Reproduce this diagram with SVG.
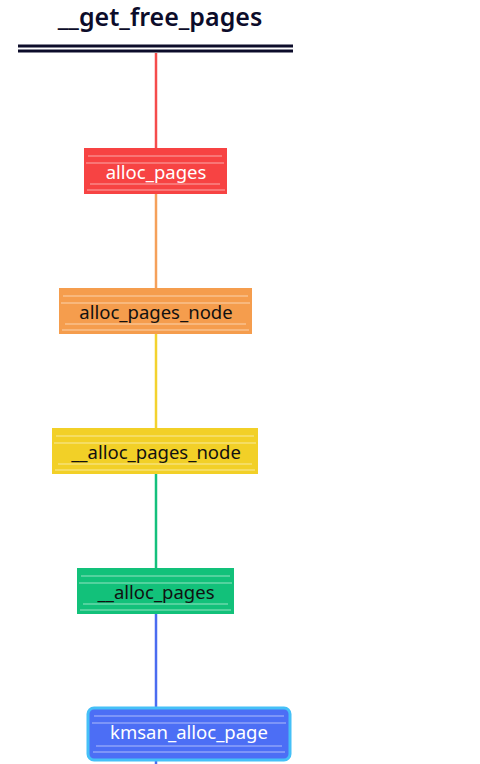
<svg xmlns="http://www.w3.org/2000/svg" width="480" height="764" viewBox="0 0 480 764">
<style>
.lbl{font-family:"Noto Sans","Liberation Sans",sans-serif;font-size:18.5px;text-anchor:middle;dominant-baseline:central}
.w{fill:#ffffff}.k{fill:#111111}
.hatch{stroke:#ffffff;stroke-opacity:0.55;stroke-width:1}
.conn{stroke-width:2.5;fill:none}
</style>
<rect width="480" height="764" fill="#ffffff"/>
<g id="title">
<text x="160" y="16" style="font-family:'Noto Sans','Liberation Sans',sans-serif;font-size:25px;font-weight:600;fill:#0c0c2a;text-anchor:middle;dominant-baseline:central">__get_free_pages</text>
<line x1="18" y1="46" x2="293" y2="46" stroke="#0c0c2a" stroke-width="3"/>
<line x1="18" y1="51" x2="293" y2="51" stroke="#0c0c2a" stroke-width="3"/>
</g>
<g id="connectors">
<line class="conn" x1="156" y1="53" x2="156" y2="148" stroke="#f54c4c"/>
<line class="conn" x1="156" y1="194" x2="156" y2="288" stroke="#f5a05a"/>
<line class="conn" x1="156" y1="334" x2="156" y2="428" stroke="#f3d22e"/>
<line class="conn" x1="156" y1="474" x2="156" y2="568" stroke="#14c07c"/>
<line class="conn" x1="156" y1="614" x2="156" y2="707" stroke="#4a6cf0"/>
<line class="conn" x1="156" y1="760" x2="156" y2="764" stroke="#4a6cf0"/>
</g>
<g id="alloc_pages">
<rect x="84" y="148" width="143" height="46" fill="#f74343"/>
<path class="hatch" d="M88 156H222M86 163H224M90 184H220M87 190H225"/>
<text class="lbl w" x="156" y="171">alloc_pages</text>
</g>
<g id="alloc_pages_node">
<rect x="59" y="288" width="193" height="46" fill="#f59d4d"/>
<path class="hatch" d="M63 296H248M61 303H250M65 324H246M62 330H249"/>
<text class="lbl k" x="156" y="311">alloc_pages_node</text>
</g>
<g id="__alloc_pages_node">
<rect x="52" y="428" width="206" height="46" fill="#f2d027"/>
<path class="hatch" d="M56 436H254M54 443H256M58 464H252M55 470H255"/>
<text class="lbl k" x="156" y="451">__alloc_pages_node</text>
</g>
<g id="__alloc_pages">
<rect x="77" y="568" width="157" height="46" fill="#12c17a"/>
<path class="hatch" d="M81 576H230M79 583H232M83 604H228M80 610H231"/>
<text class="lbl k" x="156" y="591">__alloc_pages</text>
</g>
<g id="kmsan_alloc_page">
<rect x="88" y="708" width="202" height="52" rx="6" fill="#4c6ef5" stroke="#45c0f7" stroke-width="3"/>
<path class="hatch" d="M94 716H284M92 723H286M96 746H282M93 752H285"/>
<text class="lbl w" x="189" y="731">kmsan_alloc_page</text>
</g>
</svg>
